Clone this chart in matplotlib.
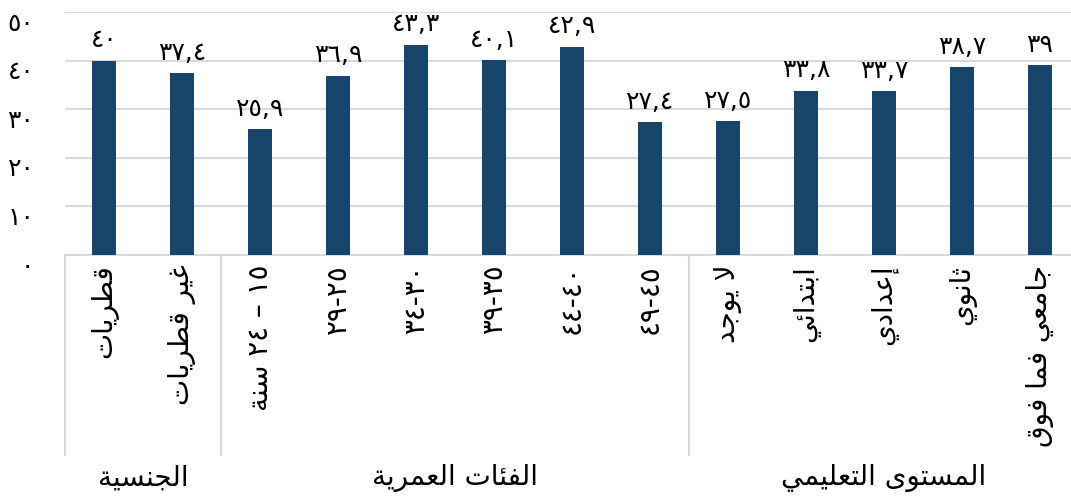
import re
import matplotlib
matplotlib.use('Agg')
import matplotlib.pyplot as plt
from matplotlib.transforms import blended_transform_factory, ScaledTranslation

plt.rcParams['font.family'] = ['DejaVu Sans']

# data
categories = ['قطريات', 'غير قطريات',
              '١٥ – ٢٤ سنة', '٢٥-٢٩', '٣٠-٣٤', '٣٥-٣٩', '٤٠-٤٤', '٤٥-٤٩',
              'لا يوجد', 'ابتدائي', 'إعدادي', 'ثانوي', 'جامعي فما فوق']
values = [40, 37.4, 25.9, 36.9, 43.3, 40.1, 42.9, 27.4, 27.5, 33.8, 33.7, 38.7, 39]
groups = ['الجنسية', 'الفئات العمرية', 'المستوى التعليمي']
group_sizes = [2, 6, 5]
yticks = [0, 10, 20, 30, 40, 50]

# simple arabic shaping (presentation forms) + right-to-left ordering
FORMS = {
    'ا': (0xFE8D, 0xFE8E, None, None),
    'إ': (0xFE87, 0xFE88, None, None),
    'ب': (0xFE8F, 0xFE90, 0xFE91, 0xFE92),
    'ة': (0xFE93, 0xFE94, None, None),
    'ت': (0xFE95, 0xFE96, 0xFE97, 0xFE98),
    'ث': (0xFE99, 0xFE9A, 0xFE9B, 0xFE9C),
    'ج': (0xFE9D, 0xFE9E, 0xFE9F, 0xFEA0),
    'د': (0xFEA9, 0xFEAA, None, None),
    'ر': (0xFEAD, 0xFEAE, None, None),
    'س': (0xFEB1, 0xFEB2, 0xFEB3, 0xFEB4),
    'ط': (0xFEC1, 0xFEC2, 0xFEC3, 0xFEC4),
    'ع': (0xFEC9, 0xFECA, 0xFECB, 0xFECC),
    'غ': (0xFECD, 0xFECE, 0xFECF, 0xFED0),
    'ف': (0xFED1, 0xFED2, 0xFED3, 0xFED4),
    'ق': (0xFED5, 0xFED6, 0xFED7, 0xFED8),
    'ل': (0xFEDD, 0xFEDE, 0xFEDF, 0xFEE0),
    'م': (0xFEE1, 0xFEE2, 0xFEE3, 0xFEE4),
    'ن': (0xFEE5, 0xFEE6, 0xFEE7, 0xFEE8),
    'و': (0xFEED, 0xFEEE, None, None),
    'ى': (0xFEEF, 0xFEF0, None, None),
    'ي': (0xFEF1, 0xFEF2, 0xFEF3, 0xFEF4),
    'ئ': (0xFE89, 0xFE8A, 0xFE8B, 0xFE8C),
}
LAM_ALEF = {'ا': (0xFEFB, 0xFEFC), 'إ': (0xFEF9, 0xFEFA)}


def joins_left(c):
    return c in FORMS and FORMS[c][2] is not None


def shape(s):
    out = []
    i = 0
    while i < len(s):
        c = s[i]
        if c not in FORMS:
            out.append(c)
            i += 1
            continue
        prev = s[i - 1] if i > 0 else ''
        nxt = s[i + 1] if i + 1 < len(s) else ''
        j_prev = joins_left(prev)
        if c == 'ل' and nxt in LAM_ALEF:
            iso, fin = LAM_ALEF[nxt]
            out.append(chr(fin if j_prev else iso))
            i += 2
            continue
        j_next = FORMS[c][2] is not None and nxt in FORMS
        iso, fin, ini, med = FORMS[c]
        if j_prev and j_next:
            out.append(chr(med))
        elif j_prev:
            out.append(chr(fin))
        elif j_next:
            out.append(chr(ini))
        else:
            out.append(chr(iso))
        i += 1
    return ''.join(out)


def visual(s):
    tokens = re.findall(r'[0-9\u0660-\u0669]+|[^0-9\u0660-\u0669]+', shape(s))
    return ''.join(t if t[0].isdigit() else t[::-1] for t in reversed(tokens))


AR_DIGITS = str.maketrans('0123456789', '٠١٢٣٤٥٦٧٨٩')


def ar_num(v):
    return f'{v:g}'.replace('.', ',').translate(AR_DIGITS)


W, H = 1071, 498
fig = plt.figure(figsize=(W / 100, H / 100), dpi=100)
ax = fig.add_axes([65 / W, 1 - 255 / H, 1014 / W, 243 / H])

bar_color = '#17456B'
grid_color = '#D9D9D9'

x = list(range(len(values)))
ax.bar(x, values, width=0.32, color=bar_color, zorder=3)
for xi, v in zip(x, values):
    ax.annotate(ar_num(v), (xi, v), xytext=(0, 6), textcoords='offset points',
                ha='center', va='bottom', fontsize=18, color='black')

ax.set_xlim(-0.5, len(values) - 0.5)
ax.set_ylim(0, 50)
ax.set_yticks(yticks)
ax.set_yticklabels([ar_num(t) for t in yticks], fontsize=18)
ax.yaxis.grid(True, color=grid_color, linewidth=1.5)
ax.set_axisbelow(True)
ax.tick_params(axis='y', length=0, pad=22)
for lbl in ax.get_yticklabels():
    lbl.set_transform(lbl.get_transform() + ScaledTranslation(0, -9 / 100, fig.dpi_scale_trans))

ax.set_xticks(x)
ax.set_xticklabels([visual(c) for c in categories], rotation=90, ha='center', va='top', fontsize=20)
ax.tick_params(axis='x', length=0, pad=7)

for s in ['top', 'right', 'left']:
    ax.spines[s].set_visible(False)
ax.spines['bottom'].set_color(grid_color)
ax.spines['bottom'].set_linewidth(1.5)

# group separators and labels
trans = blended_transform_factory(ax.transData, fig.transFigure)
edges = [-0.5]
for n in group_sizes:
    edges.append(edges[-1] + n)
for e in edges:
    ax.plot([e, e], [1 - 255 / H, 1 - 455 / H], transform=trans, color=grid_color,
            linewidth=1.5, clip_on=False)
for g, a, b in zip(groups, edges[:-1], edges[1:]):
    ax.text((a + b) / 2, 1 - 478 / H, visual(g), transform=trans, ha='center', va='center',
            fontsize=20, color='black')

fig.savefig('out.png', dpi=100)
